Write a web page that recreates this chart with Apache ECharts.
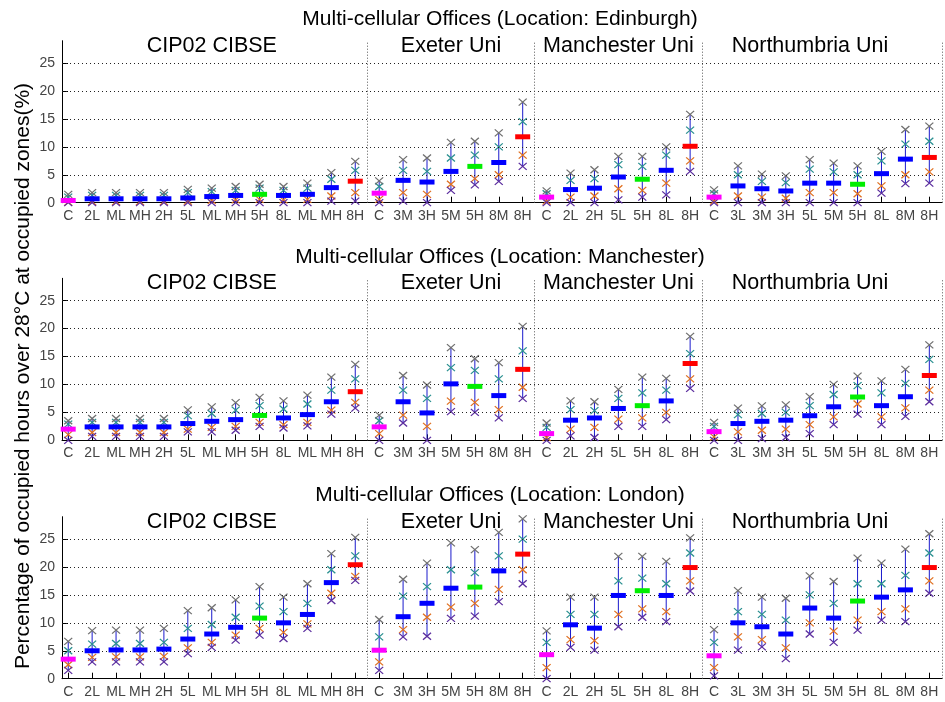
<!DOCTYPE html>
<html>
<head>
<meta charset="utf-8">
<script src="https://cdn.jsdelivr.net/npm/echarts@6/dist/echarts.min.js"></script>
<style>
html,body{margin:0;padding:0;background:#fff;}
#c{width:945px;height:702px;}
</style>
</head>
<body>
<div id="c"></div>
<script>
// ---------- DATA ----------
const labels = ['C','2L','ML','MH','2H','5L','ML','MH','5H','8L','ML','MH','8H',
                'C','3M','3H','5M','5H','8M','8H',
                'C','2L','2H','5L','5H','8L','8H',
                'C','3L','3M','3H','5L','5M','5H','8L','8M','8H'];
const groupNames = ['CIP02 CIBSE','Exeter Uni','Manchester Uni','Northumbria Uni'];
const groupSeparators = [13.5, 20.5, 27.5];
const yTicks = [0,5,10,15,20,25];
const panelTitles = ['Multi-cellular Offices (Location: Edinburgh)',
                     'Multi-cellular Offices (Location: Manchester)',
                     'Multi-cellular Offices (Location: London)'];
const yTitle = 'Percentage of occupied hours over 28°C at occupied zones(%)';

// Edinburgh
const med1 = [0.4,0.7,0.7,0.7,0.7,0.85,1.1,1.3,1.5,1.3,1.5,2.7,3.85, 1.7,4.0,3.7,5.6,6.5,7.2,11.8, 1.0,2.35,2.6,4.6,4.2,5.8,10.1, 1.0,3.0,2.5,2.1,3.5,3.5,3.3,5.2,7.8,8.1];
const max1 = [1.5,1.8,1.8,1.8,1.8,2.4,2.6,2.9,3.3,2.9,3.5,5.4,7.4, 3.9,7.7,8.0,10.8,11.0,12.5,18.0, 2.1,5.3,5.9,8.3,8.3,10.0,15.8, 2.3,6.6,5.1,4.8,7.7,7.1,6.6,9.2,13.1,13.7];
const min1 = [0,0,0,0,0,0,0,0,0,0,0,0.3,0.3, 0,0.3,0,2.2,3.2,3.8,6.5, 0,0,0,0.5,1.0,1.4,5.6, 0,0,0,0,0,0,0,1.7,3.4,3.5];
const lo1  = [0.1,0.2,0.2,0.2,0.2,0.3,0.4,0.5,0.6,0.5,0.6,1.2,1.8, 0.6,1.8,1.5,3.3,4.3,5.0,8.5, 0.3,1.0,1.2,2.5,2.2,3.5,7.5, 0.3,1.2,1.0,0.8,1.8,1.8,1.6,3.0,5.0,5.5];
const hi1  = [1.0,1.3,1.3,1.3,1.3,1.8,2.0,2.2,2.6,2.2,2.6,4.2,5.8, 2.9,5.8,5.6,8.0,8.5,10.0,14.5, 1.6,4.0,4.3,6.8,6.5,8.5,13.0, 1.6,5.0,3.8,3.6,6.0,5.5,5.0,7.5,10.5,11.0];

// Manchester
const med2 = [2.0,2.4,2.4,2.4,2.4,3.0,3.4,3.7,4.45,4.0,4.6,6.9,8.7, 2.4,6.9,4.9,10.1,9.65,8.0,12.7, 1.2,3.6,4.0,5.7,6.2,7.05,13.75, 1.55,3.0,3.4,3.6,4.4,6.0,7.75,6.2,7.8,11.6];
const max2 = [3.5,3.9,3.9,3.9,3.9,5.45,6.0,6.75,7.7,7.05,8.1,11.3,13.6, 4.5,11.6,9.9,16.6,14.6,13.9,20.4, 3.1,7.05,6.9,9.1,11.3,11.1,18.6, 3.2,5.75,6.15,6.35,7.8,10.0,11.5,10.65,12.7,17.1];
const min2 = [0,0.7,0.7,0.7,0.7,1.5,1.5,1.8,2.5,2.2,2.6,4.7,5.75, 0,3.1,0,5.15,5.0,4.0,7.5, 0,0.8,0.5,2.5,2.5,3.7,9.3, 0,0,0.3,0.5,1.2,2.8,4.7,2.8,4.3,6.9];
const lo2  = [1.0,1.4,1.4,1.4,1.4,2.0,2.3,2.5,3.2,2.8,3.2,5.4,6.8, 1.2,4.5,2.5,7.0,6.8,5.5,9.5, 0.5,2.0,2.3,3.8,4.0,5.0,11.0, 0.6,1.5,1.8,2.0,2.8,4.2,6.5,4.2,5.8,9.0];
const hi2  = [2.9,3.2,3.2,3.2,3.2,4.4,4.8,5.4,6.2,5.6,6.5,9.0,11.0, 3.5,9.0,7.5,13.0,12.5,11.0,16.0, 2.3,5.5,5.3,7.5,8.5,9.0,15.5, 2.5,4.6,4.8,5.0,6.2,8.2,9.8,8.5,10.2,14.5];

// London
const med3 = [3.5,5.0,5.15,5.15,5.3,7.1,8.0,9.2,10.85,10.0,11.5,17.2,20.4, 5.1,11.1,13.5,16.2,16.4,19.3,22.3, 4.3,9.65,9.05,14.9,15.75,14.9,19.9, 4.1,10.0,9.3,8.0,12.65,10.85,13.9,14.6,15.9,19.9];
const max3 = [6.7,8.6,8.7,8.7,9.0,12.2,12.7,14.1,16.5,14.6,17.0,22.4,25.3, 10.6,17.8,20.7,24.3,23.1,26.2,28.6, 8.55,14.6,14.6,21.9,21.9,21.0,25.2, 8.8,15.75,14.6,14.4,18.4,17.4,21.6,20.7,23.2,25.95];
const min3 = [1.5,3.0,3.0,3.0,3.0,4.5,5.6,6.9,7.8,7.2,9.0,14.0,17.6, 1.5,7.5,7.6,10.8,11.2,13.8,17.0, 0,5.6,5.1,9.3,11.0,10.2,15.7, 0.5,5.1,5.7,3.6,8.0,6.5,8.7,10.5,10.2,15.3];
const lo3  = [2.5,3.8,3.9,3.9,4.0,5.5,6.5,7.8,9.0,8.3,9.8,15.3,18.3, 3.0,8.8,11.0,12.8,13.5,16.0,19.5, 2.0,7.0,6.8,11.5,12.5,12.0,17.5, 2.0,7.5,7.0,5.5,10.0,8.5,10.5,12.0,12.5,17.5];
const hi3  = [5.0,6.2,6.3,6.3,6.5,9.0,9.7,11.0,13.0,12.0,13.5,19.5,22.0, 7.5,14.8,16.5,19.5,19.0,22.0,25.0, 6.5,11.5,11.5,17.5,18.0,17.0,22.5, 6.5,12.0,11.5,10.5,15.0,13.5,17.0,17.0,18.5,22.5];

// ---------- CHART ----------
const panels = [
  {med: med1, max: max1, min: min1, lo: lo1, hi: hi1},
  {med: med2, max: max2, min: min2, lo: lo2, hi: hi2},
  {med: med3, max: max3, min: min3, lo: lo3, hi: hi3}
];
const gridTops = [40.7, 278.3, 516.7];
const gridH = 162;
const FONT = 'Liberation Sans, Arial, sans-serif';
const xs = labels.map((_, i) => i + 1);

function medColor(lab){
  if (lab === 'C') return '#ff00ff';
  if (lab === '5H') return '#00ee00';
  if (lab === '8H') return '#ff0000';
  return '#0000ff';
}
const X_PATH = 'path://M0,0L10,10M10,0L0,10';

const grids = [], xAxes = [], yAxes = [], series = [], graphics = [];
panels.forEach((p, k) => {
  grids.push({left: 62, right: 3, top: gridTops[k], height: gridH, containLabel: false});
  xAxes.push({
    type: 'value', gridIndex: k, min: 0.74, max: 37.53,
    axisLine: {show: true, onZero: false, lineStyle: {color: '#000', width: 1}},
    axisTick: {show: true, inside: true, length: 6, customValues: xs, lineStyle: {color: '#000'}},
    axisLabel: {show: true, customValues: xs, margin: 6, color: '#444', fontFamily: FONT, fontSize: 14,
      formatter: v => labels[Math.round(v) - 1]},
    splitLine: {show: false}
  });
  yAxes.push({
    type: 'value', gridIndex: k, min: 0, max: 29,
    axisLine: {show: true, lineStyle: {color: '#000', width: 1}},
    axisTick: {show: true, inside: true, length: 6, customValues: yTicks, lineStyle: {color: '#000'}},
    axisLabel: {show: true, customValues: yTicks, margin: 7, color: '#444', fontFamily: FONT, fontSize: 14},
    splitLine: {show: false}
  });
  // range lines
  series.push({
    type: 'custom', xAxisIndex: k, yAxisIndex: k, z: 2, silent: true,
    data: xs.map((x, i) => [x, p.min[i], p.max[i]]),
    encode: {x: 0, y: [1, 2]},
    renderItem: (params, api) => {
      const a = api.coord([api.value(0), api.value(1)]);
      const b = api.coord([api.value(0), api.value(2)]);
      return {type: 'line', shape: {x1: a[0], y1: a[1], x2: b[0], y2: b[1]},
              style: {stroke: '#1a1acc', lineWidth: 1}};
    },
    markLine: {
      silent: true, symbol: 'none', label: {show: false},
      lineStyle: {color: '#222', type: [1, 3], width: 1},
      animation: false,
      data: [5,10,15,20,25].map(v => ({yAxis: v}))
        .concat(groupSeparators.concat([37.53]).map(v => ({xAxis: v, lineStyle: {color: '#555', type: [1, 2]}})))
    }
  });
  const markerSets = [
    {vals: p.lo, color: '#e07020'},
    {vals: p.min, color: '#5b2d9e'},
    {vals: p.hi, color: '#2a9090'},
    {vals: p.max, color: '#707070'}
  ];
  markerSets.forEach(ms => {
    series.push({
      type: 'scatter', xAxisIndex: k, yAxisIndex: k, z: 3, silent: true,
      symbol: X_PATH, symbolSize: [8, 7],
      itemStyle: {color: 'rgba(0,0,0,0)', borderColor: ms.color, borderWidth: 1.2, opacity: 1},
      data: xs.map((x, i) => [x, ms.vals[i]])
    });
  });
  series.push({
    type: 'scatter', xAxisIndex: k, yAxisIndex: k, z: 5, silent: true,
    symbol: 'rect', symbolSize: [15, 5],
    itemStyle: {color: params => medColor(labels[params.dataIndex]), opacity: 1},
    data: xs.map((x, i) => [x, p.med[i]])
  });

  graphics.push({type: 'text', x: 500, y: gridTops[k] - 21,
    style: {text: panelTitles[k], font: '21px ' + FONT, fill: '#000', textAlign: 'center', textVerticalAlign: 'middle'}});
  const gcenters = [211.8, 451, 618.4, 810];
  groupNames.forEach((g, j) => {
    graphics.push({type: 'text', x: gcenters[j], y: gridTops[k] + 5,
      style: {text: g, font: '21.5px ' + FONT, fill: '#000', textAlign: 'center', textVerticalAlign: 'middle'}});
  });
});
graphics.push({type: 'text', x: 23, y: 376, rotation: Math.PI / 2,
  style: {text: yTitle, font: '21px ' + FONT, fill: '#000', textAlign: 'center', textVerticalAlign: 'middle'}});

const chart = echarts.init(document.getElementById('c'), null, {renderer: 'canvas'});
chart.setOption({
  animation: false,
  backgroundColor: '#fff',
  grid: grids, xAxis: xAxes, yAxis: yAxes, series: series,
  graphic: graphics
});
</script>
</body>
</html>
